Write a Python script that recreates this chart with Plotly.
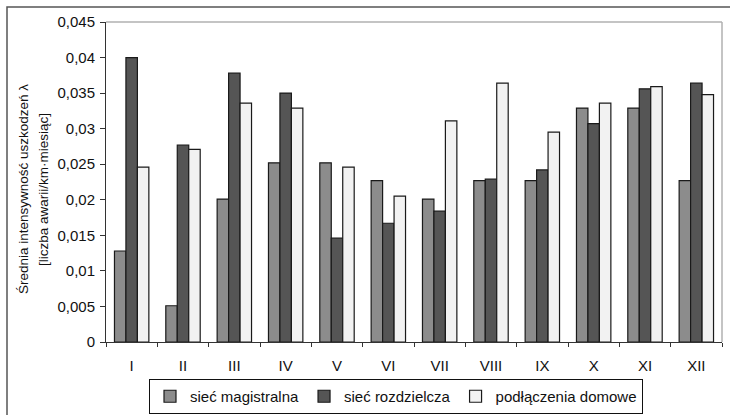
import plotly.graph_objects as go

months = ["I", "II", "III", "IV", "V", "VI", "VII", "VIII", "IX", "X", "XI", "XII"]
magistralna = [0.0128, 0.0051, 0.0201, 0.0252, 0.0252, 0.0227, 0.0201, 0.0227, 0.0227, 0.0329, 0.0329, 0.0227]
rozdzielcza = [0.0400, 0.0277, 0.0378, 0.0350, 0.0146, 0.0167, 0.0184, 0.0229, 0.0242, 0.0307, 0.0356, 0.0364]
domowe = [0.0246, 0.0271, 0.0336, 0.0329, 0.0246, 0.0205, 0.0311, 0.0364, 0.0295, 0.0336, 0.0359, 0.0348]
series_names = ["sieć magistralna", "sieć rozdzielcza", "podłączenia domowe"]
y_tickvals = [0, 0.005, 0.01, 0.015, 0.02, 0.025, 0.03, 0.035, 0.04, 0.045]
y_ticktext = ["0", "0,005", "0,01", "0,015", "0,02", "0,025", "0,03", "0,035", "0,04", "0,045"]
y_title_lines = ["Średnia intensywność uszkodzeń λ", "[liczba awarii/km·miesiąc]"]

colors = ["#8c8c8c", "#555555", "#f2f2f2"]
FONT = "Liberation Sans, Arial, sans-serif"

fig = go.Figure()
for name, vals, col in zip(series_names, [magistralna, rozdzielcza, domowe], colors):
    fig.add_trace(go.Bar(
        x=months, y=vals, name=name,
        marker=dict(color=col, line=dict(color="#1a1a1a", width=1.2)),
    ))

W, H = 730, 415
L, R, T, B = 106, 8, 22, 73
pw, ph = W - L - R, H - T - B

def px_x(p):
    return (p - L) / pw

def px_y(p):
    return (H - B - p) / ph

fig.update_layout(
    width=W, height=H,
    margin=dict(l=L, r=R, t=T, b=B, pad=0, autoexpand=False),
    paper_bgcolor="white", plot_bgcolor="white",
    barmode="group", bargap=0.33, bargroupgap=0,
    font=dict(family=FONT, size=15, color="#111111"),
    showlegend=True,
    legend=dict(
        orientation="h", x=px_x(396), xanchor="center", y=px_y(379), yanchor="top",
        bordercolor="#111111", borderwidth=1, bgcolor="white",
        font=dict(family=FONT, size=15, color="#111111"),
        traceorder="normal", itemwidth=30,
    ),
    xaxis=dict(
        range=[-0.5, 11.5], showgrid=False, showline=True, linecolor="#333333", linewidth=1,
        ticks="outside", tickson="boundaries", ticklen=4, tickcolor="#333333",
        tickfont=dict(family=FONT, size=15, color="#111111"), mirror=False,
        ticklabelstandoff=10, automargin=False,
    ),
    yaxis=dict(
        range=[0, 0.045], tickvals=y_tickvals, ticktext=y_ticktext,
        showgrid=False, showline=True, linecolor="#333333", linewidth=1,
        ticks="outside", ticklen=5, tickcolor="#333333",
        tickfont=dict(family=FONT, size=15, color="#111111"), zeroline=False,
        ticklabelstandoff=2, automargin=False,
    ),
    shapes=[
        dict(type="line", xref="paper", yref="paper", x0=0, x1=1, y0=1, y1=1,
             line=dict(color="#b0b0b0", width=1.5)),
        dict(type="line", xref="paper", yref="paper", x0=1, x1=1, y0=0, y1=1,
             line=dict(color="#b0b0b0", width=1.5)),
        dict(type="rect", xref="paper", yref="paper",
             x0=px_x(7), x1=px_x(760), y0=px_y(440), y1=px_y(7),
             line=dict(color="#555555", width=1.5), layer="above"),
    ],
    annotations=[
        dict(text=y_title_lines[0], xref="paper", yref="paper",
             x=px_x(23), y=px_y(189), xanchor="center", yanchor="middle",
             textangle=-90, showarrow=False,
             font=dict(family=FONT, size=13.5, color="#111111")),
        dict(text=y_title_lines[1], xref="paper", yref="paper",
             x=px_x(43), y=px_y(189), xanchor="center", yanchor="middle",
             textangle=-90, showarrow=False,
             font=dict(family=FONT, size=13.5, color="#111111")),
    ],
)

fig.write_html("out.html")
